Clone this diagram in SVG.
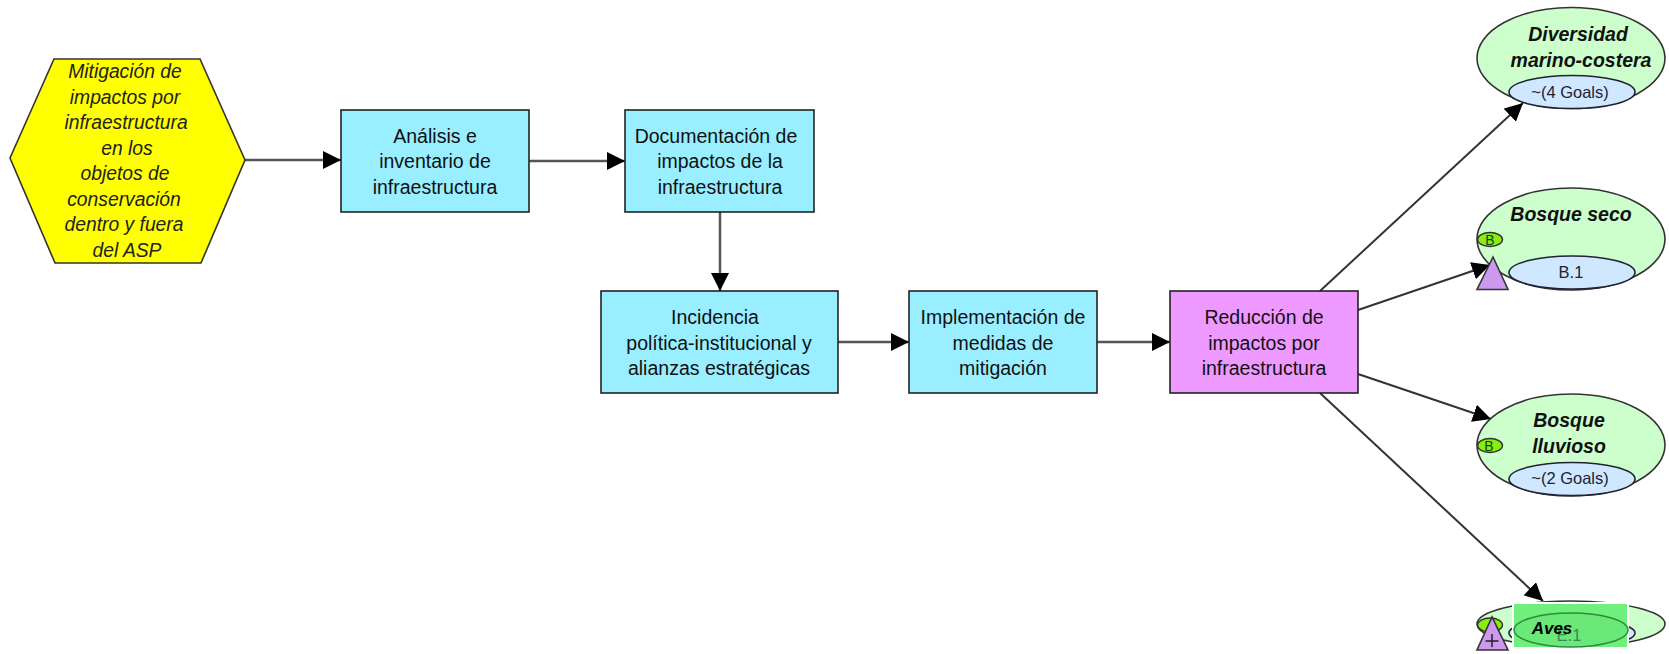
<svg xmlns="http://www.w3.org/2000/svg" width="1669" height="654" viewBox="0 0 1669 654">
<style>
text{font-family:"Liberation Sans",Arial,sans-serif;text-anchor:middle;fill:#111}
.t{font-size:19.5px}
.h{font-size:19.3px;font-style:italic;fill:#222}
.o{font-size:19.500px;font-style:italic;font-weight:bold;fill:#111}
.g{font-size:16.500px;fill:#223}
.box{stroke:#222;stroke-width:1.6}
.act{fill:#99eeff}
.res{fill:#ee99ff}
.tgt{fill:#ccffcc;stroke:#333;stroke-width:1.6}
.goal{fill:#cfe8ff;stroke:#223;stroke-width:1.6}
.bad{fill:#88ee11;stroke:#333;stroke-width:1.4}
.tri{fill:#cc99ee;stroke:#333;stroke-width:1.6}
.c{stroke:#555;stroke-width:2.5;fill:none;marker-end:url(#a)}
.d{stroke:#333;stroke-width:2;fill:none;marker-end:url(#a)}
</style>
<defs>
<marker id="a" markerUnits="userSpaceOnUse" markerWidth="20" markerHeight="20" refX="18" refY="9" orient="auto"><path d="M0 0L18 9L0 18Z" fill="#000"/></marker>
</defs>
<rect width="1669" height="654" fill="#fff"/>
<g id="connectors">
<path class="c" d="M245 160H341"/>
<path class="c" d="M529 161H625"/>
<path class="c" d="M720 212V291"/>
<path class="c" d="M838 342H909"/>
<path class="c" d="M1097 342H1170"/>
<path class="d" d="M1320 291L1523 103"/>
<path class="d" d="M1358 310L1490 265"/>
<path class="d" d="M1358 374L1491 419"/>
<path class="d" d="M1320 393L1543 601"/>
</g>
<g id="factor">
<path d="M10 158L54 59H200L245 160L201 263H55Z" fill="#ffff00" stroke="#333" stroke-width="1.6"/>
<text class="h" x="125" y="78">Mitigación de</text>
<text class="h" x="125" y="104">impactos por</text>
<text class="h" x="126" y="129">infraestructura</text>
<text class="h" x="127" y="155">en los</text>
<text class="h" x="125" y="180">objetos de</text>
<text class="h" x="124" y="206">conservación</text>
<text class="h" x="124" y="231">dentro y fuera</text>
<text class="h" x="127" y="257">del ASP</text>
</g>
<g id="analisis">
<rect class="box act" x="341" y="110" width="188" height="102"/>
<text class="t" x="435" y="143">Análisis e</text>
<text class="t" x="435" y="168">inventario de</text>
<text class="t" x="435" y="194">infraestructura</text>
</g>
<g id="documentacion">
<rect class="box act" x="625" y="110" width="189" height="102"/>
<text class="t" x="716" y="143">Documentación de</text>
<text class="t" x="720" y="168">impactos de la</text>
<text class="t" x="720" y="194">infraestructura</text>
</g>
<g id="incidencia">
<rect class="box act" x="601" y="291" width="237" height="102"/>
<text class="t" x="715" y="324">Incidencia</text>
<text class="t" x="719" y="350">política-institucional y</text>
<text class="t" x="719" y="375">alianzas estratégicas</text>
</g>
<g id="implementacion">
<rect class="box act" x="909" y="291" width="188" height="102"/>
<text class="t" x="1003" y="324">Implementación de</text>
<text class="t" x="1003" y="350">medidas de</text>
<text class="t" x="1003" y="375">mitigación</text>
</g>
<g id="reduccion">
<rect class="box res" x="1170" y="291" width="188" height="102"/>
<text class="t" x="1264" y="324">Reducción de</text>
<text class="t" x="1264" y="350">impactos por</text>
<text class="t" x="1264" y="375">infraestructura</text>
</g>
<g id="diversidad">
<ellipse class="tgt" cx="1571" cy="58" rx="94" ry="50.500"/>
<text class="o" x="1578" y="41">Diversidad</text>
<text class="o" x="1581" y="67">marino-costera</text>
<ellipse class="goal" cx="1572" cy="92" rx="63" ry="16.500"/>
<text class="g" x="1570" y="98">~(4 Goals)</text>
</g>
<g id="bosque-seco">
<ellipse class="tgt" cx="1571" cy="239" rx="94" ry="51"/>
<text class="o" x="1571" y="221">Bosque seco</text>
<ellipse class="goal" cx="1572" cy="272.500" rx="63" ry="16.500"/>
<text class="g" x="1571" y="278">B.1</text>
<ellipse class="bad" cx="1490" cy="239.500" rx="12.500" ry="7"/>
<text x="1490" y="244.500" font-size="14" style="fill:#141">B</text>
<path class="tri" d="M1493 257L1477 289.500H1508Z"/>
</g>
<g id="bosque-lluvioso">
<ellipse class="tgt" cx="1571" cy="445" rx="94" ry="51"/>
<text class="o" x="1569" y="427">Bosque</text>
<text class="o" x="1569" y="453">lluvioso</text>
<ellipse class="goal" cx="1572" cy="479" rx="63" ry="16.500"/>
<text class="g" x="1570" y="484">~(2 Goals)</text>
<ellipse class="bad" cx="1490" cy="445.500" rx="12.500" ry="7"/>
<text x="1489" y="450.500" font-size="14" style="fill:#141">B</text>
</g>
<g id="aves">
<ellipse class="tgt" cx="1571" cy="624" rx="94" ry="23"/>
<ellipse class="goal" cx="1572" cy="633" rx="63" ry="14"/>
<ellipse class="bad" cx="1490" cy="625" rx="12.500" ry="7"/>
<path class="tri" d="M1492 617L1477 650H1508Z"/>
<path d="M1492 634V647M1485.500 641H1498.500" stroke="#222" stroke-width="1.500"/>
<rect x="1513" y="603" width="115" height="45" fill="#6ff07c" stroke="#fff" stroke-width="2"/>
<ellipse cx="1571" cy="630" rx="57" ry="17" fill="#6ae878" stroke="#2e8b3c" stroke-width="1.500"/>
<text x="1569" y="641" font-size="16.500" style="fill:#3a8a55">E.1</text>
<text x="1552" y="634" font-size="17" font-style="italic" font-weight="bold" style="fill:#000">Aves</text>
</g>
</svg>
